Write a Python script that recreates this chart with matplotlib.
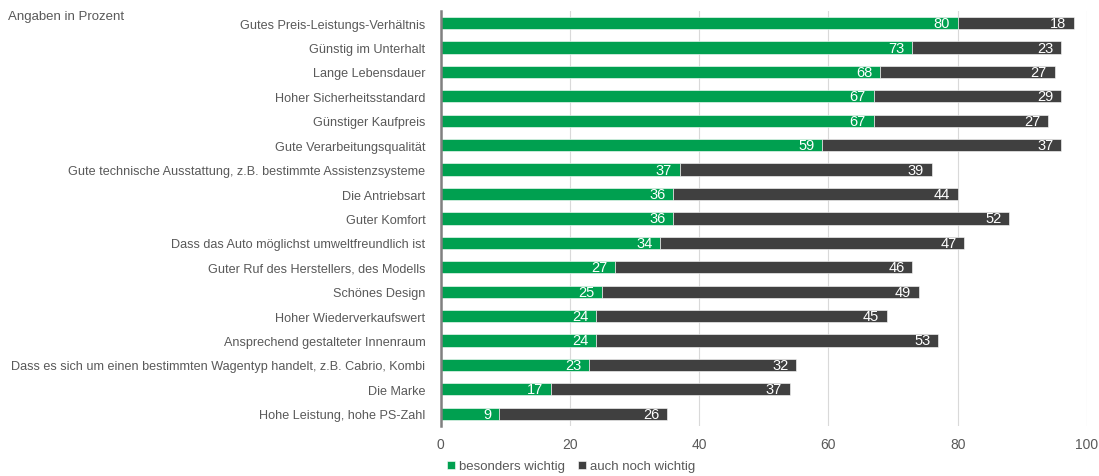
import matplotlib
matplotlib.use("Agg")
import matplotlib.pyplot as plt
from matplotlib import font_manager

categories = [
    "Gutes Preis-Leistungs-Verhältnis",
    "Günstig im Unterhalt",
    "Lange Lebensdauer",
    "Hoher Sicherheitsstandard",
    "Günstiger Kaufpreis",
    "Gute Verarbeitungsqualität",
    "Gute technische Ausstattung, z.B. bestimmte Assistenzsysteme",
    "Die Antriebsart",
    "Guter Komfort",
    "Dass das Auto möglichst umweltfreundlich ist",
    "Guter Ruf des Herstellers, des Modells",
    "Schönes Design",
    "Hoher Wiederverkaufswert",
    "Ansprechend gestalteter Innenraum",
    "Dass es sich um einen bestimmten Wagentyp handelt, z.B. Cabrio, Kombi",
    "Die Marke",
    "Hohe Leistung, hohe PS-Zahl",
]
besonders = [80, 73, 68, 67, 67, 59, 37, 36, 36, 34, 27, 25, 24, 24, 23, 17, 9]
auch_noch = [18, 23, 27, 29, 27, 37, 39, 44, 52, 47, 46, 49, 45, 53, 32, 37, 26]
series_names = ["besonders wichtig", "auch noch wichtig"]
x_ticks = [0, 20, 40, 60, 80, 100]

GREEN = "#00A050"
DARK = "#404040"
TEXT = "#595959"

installed = {f.name for f in font_manager.fontManager.ttflist}
base_font = "Liberation Sans" if "Liberation Sans" in installed else "DejaVu Sans"
narrow_font = "Liberation Sans Narrow" if "Liberation Sans Narrow" in installed else base_font
plt.rcParams["font.family"] = [base_font, "DejaVu Sans"]

fig = plt.figure(figsize=(10.99, 4.77), dpi=100)
ax = fig.add_axes([0.401, 0.105, 0.588, 0.870])

y = list(range(len(categories)))
h = 0.5
b1 = ax.barh(y, besonders, height=h, color=GREEN, edgecolor="white", linewidth=0.4,
             label=series_names[0], zorder=3)
b2 = ax.barh(y, auch_noch, left=besonders, height=h, color=DARK, edgecolor="white",
             linewidth=0.4, label=series_names[1], zorder=3)

for yi, a, b in zip(y, besonders, auch_noch):
    ax.text(a - 1.2, yi, str(a), ha="right", va="center", color="white",
            fontsize=10.5, family=narrow_font, zorder=4)
    ax.text(a + b - 1.2, yi, str(b), ha="right", va="center", color="white",
            fontsize=10.5, family=narrow_font, zorder=4)

ax.set_ylim(len(categories) - 0.5, -0.5)
ax.set_xlim(0, 100)
ax.set_yticks(y)
ax.set_yticklabels(categories, fontsize=9.1, color=TEXT)
ax.set_xticks(x_ticks)
ax.set_xticklabels([str(t) for t in x_ticks], fontsize=10, color=TEXT)
ax.tick_params(axis="both", length=0)
ax.tick_params(axis="y", pad=11)
ax.tick_params(axis="x", pad=8)

ax.grid(axis="x", color="#D9D9D9", linewidth=0.8, zorder=0)
for side in ["top", "right", "bottom"]:
    ax.spines[side].set_visible(False)
ax.spines["left"].set_color("#808080")
ax.spines["left"].set_linewidth(1.8)
ax.spines["left"].set_zorder(5)

fig.text(0.007, 0.965, "Angaben in Prozent", fontsize=9.5, color=TEXT, ha="left", va="center")

leg = fig.legend(handles=[b1, b2], labels=series_names, loc="center left",
                 bbox_to_anchor=(0.396, 0.020), ncol=2, frameon=False, fontsize=9.5,
                 handlelength=0.6, handleheight=0.6, handletextpad=0.3, columnspacing=1.0)
for t in leg.get_texts():
    t.set_color(TEXT)

fig.savefig("out.png", dpi=100)
